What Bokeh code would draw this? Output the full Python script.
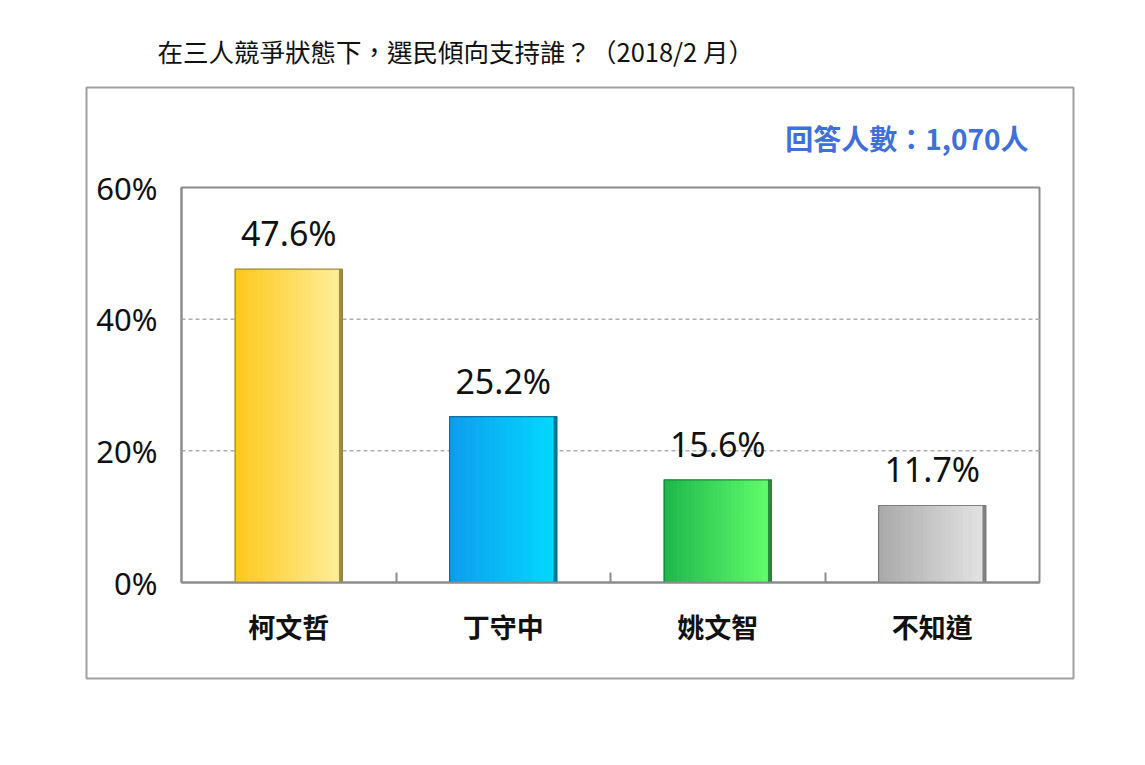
from bokeh.plotting import figure
from bokeh.models import (ColumnDataSource, FixedTicker, LinearAxis,
                          Range1d, Title, Label)
from bokeh.transform import dodge
from bokeh.core.properties import value
from bokeh.embed import file_html
from bokeh.resources import INLINE

# ---- data ----
categories = ["柯文哲", "丁守中", "姚文智", "不知道"]
support = [47.6, 25.2, 15.6, 11.7]
y_ticks = [0, 20, 40, 60]
y_tick_labels = ["0%", "20%", "40%", "60%"]
title_text = "在三人競爭狀態下，選民傾向支持誰？（2018/2 月）"
sample_text = "回答人數：1,070人"

# ---- styles ----
left_colors = ["#FDC81A", "#0E9CEE", "#1DB64C", "#A9A9A9"]
right_colors = ["#FFEE9E", "#02DAFF", "#62FF6C", "#E4E4E4"]
edge_colors = ["#8A7426", "#0A5F86", "#1E6E34", "#6A6A6A"]
AXIS_GRAY = "#8C8C8C"

W, H = 1128, 748
BL, BR, BT, BB = 86, 1073, 87, 678      # outer box (figure frame), pixels
FL, FR, FT, FB = 181, 1039, 187, 582    # plot area inside the box, pixels

n = len(categories)
pos = list(range(n))
x_lo, x_hi = -0.5, n - 0.5
y_lo, y_hi = y_ticks[0], y_ticks[-1]


def px2x(px):
    return x_lo + (px - FL) / (FR - FL) * (x_hi - x_lo)


def py2y(py):
    return y_lo + (FB - py) / (FB - FT) * (y_hi - y_lo)


def hex2rgb(h):
    h = h.lstrip("#")
    return [int(h[i:i + 2], 16) for i in (0, 2, 4)]


def lerp(c1, c2, t):
    a, b = hex2rgb(c1), hex2rgb(c2)
    return "#%02x%02x%02x" % tuple(int(round(a[k] + (b[k] - a[k]) * t)) for k in range(3))


N = 24
bar_w = 0.5
strip_w = bar_w / N
data = dict(xi=pos, cat=categories, val=support,
            lbl=[f"{v:.1f}%" for v in support], edge=edge_colors)
for j in range(N):
    t = (j + 0.5) / N
    data[f"c{j}"] = [lerp(l, r, t) for l, r in zip(left_colors, right_colors)]
src = ColumnDataSource(data)

p = figure(x_range=Range1d(px2x(BL), px2x(BR)), y_range=Range1d(py2y(BB), py2y(BT)),
           width=W, height=H, output_backend="svg", toolbar_location=None,
           x_axis_location=None,
           min_border_left=BL, min_border_right=W - BR,
           min_border_top=BT, min_border_bottom=H - BB)
p.background_fill_color = "white"
p.border_fill_color = "white"
p.outline_line_color = "#A0A0A0"
p.outline_line_width = 2
p.xgrid.visible = False
p.ygrid.visible = False

# plot-area border and dashed gridlines
p.quad(left=[x_lo], right=[x_hi], bottom=[y_lo], top=[y_hi],
       fill_color=None, line_color=AXIS_GRAY, line_width=2)
grid_vals = y_ticks[1:-1]
p.segment(x0=[x_lo] * len(grid_vals), x1=[x_hi] * len(grid_vals),
          y0=grid_vals, y1=grid_vals, line_color="#AFAFAF",
          line_dash="4 3", line_width=1.5)

# y axis, fixed at the left of the plot area
p.yaxis.fixed_location = x_lo
p.yaxis.bounds = (y_lo, y_hi)
p.yaxis.ticker = FixedTicker(ticks=y_ticks)
p.yaxis.major_label_overrides = {t: l for t, l in zip(y_ticks, y_tick_labels)}
p.yaxis.axis_line_color = AXIS_GRAY
p.yaxis.axis_line_width = 2
p.yaxis.major_tick_line_color = None
p.yaxis.minor_tick_line_color = None
p.yaxis.major_label_standoff = 18
p.yaxis.major_label_text_font = "Noto Sans"
p.yaxis.major_label_text_font_size = "31px"
p.yaxis.major_label_text_color = "#111111"

# x axis with inside ticks at category boundaries
bounds = [i + 0.5 for i in pos[:-1]]
bound_axis = LinearAxis(fixed_location=y_lo, bounds=(x_lo, x_hi),
                        ticker=FixedTicker(ticks=bounds),
                        major_tick_in=10, major_tick_out=0,
                        major_tick_line_color=AXIS_GRAY, major_tick_line_width=2,
                        axis_line_color=AXIS_GRAY, axis_line_width=2,
                        major_label_text_font_size="0px", major_label_standoff=0)
bound_axis.major_label_overrides = {b: "" for b in bounds}
p.add_layout(bound_axis, "below")

cat_axis = LinearAxis(fixed_location=y_lo, ticker=FixedTicker(ticks=pos),
                      axis_line_color=None, major_tick_line_color=None,
                      minor_tick_line_color=None,
                      major_label_standoff=18,
                      major_label_text_font="Noto Sans CJK TC",
                      major_label_text_font_size="27px",
                      major_label_text_font_style="bold",
                      major_label_text_color="#111111")
cat_axis.major_label_overrides = {i: c for i, c in zip(pos, categories)}
p.add_layout(cat_axis, "below")

# gradient bars as vertical strips
for j in range(N):
    off = -bar_w / 2 + (j + 0.5) * strip_w
    p.vbar(x=dodge("xi", off), top="val", width=strip_w * 1.08,
           source=src, fill_color=f"c{j}", line_color=f"c{j}", line_width=0.6)
edge_w = 0.016
p.vbar(x=dodge("xi", bar_w / 2 - edge_w / 2), top="val", width=edge_w, source=src,
       fill_color="edge", line_color=None, fill_alpha=0.8)
p.vbar(x="xi", top="val", width=bar_w, source=src, fill_color=None,
       line_color="edge", line_width=1.2, line_alpha=0.8)

# value labels
p.text(x="xi", y="val", text="lbl", source=src, text_align="center",
       text_baseline="bottom", y_offset=-13, text_font=value("Noto Sans"),
       text_font_size="34px", text_color="#111111")

# respondents note inside the box
p.add_layout(Label(x=px2x(1028), y=py2y(137), text=sample_text,
                   text_align="right", text_baseline="middle",
                   text_font="Noto Sans CJK TC", text_font_style="bold",
                   text_font_size="28px", text_color="#3F6FD9"))

# title above the box
p.add_layout(Title(text=title_text, align="left", offset=157 - BL, standoff=37,
                   text_font="Noto Sans CJK TC", text_font_style="normal",
                   text_font_size="25.5px", text_color="#111111"), "above")

open("out.html", "w").write(file_html(p, INLINE))
